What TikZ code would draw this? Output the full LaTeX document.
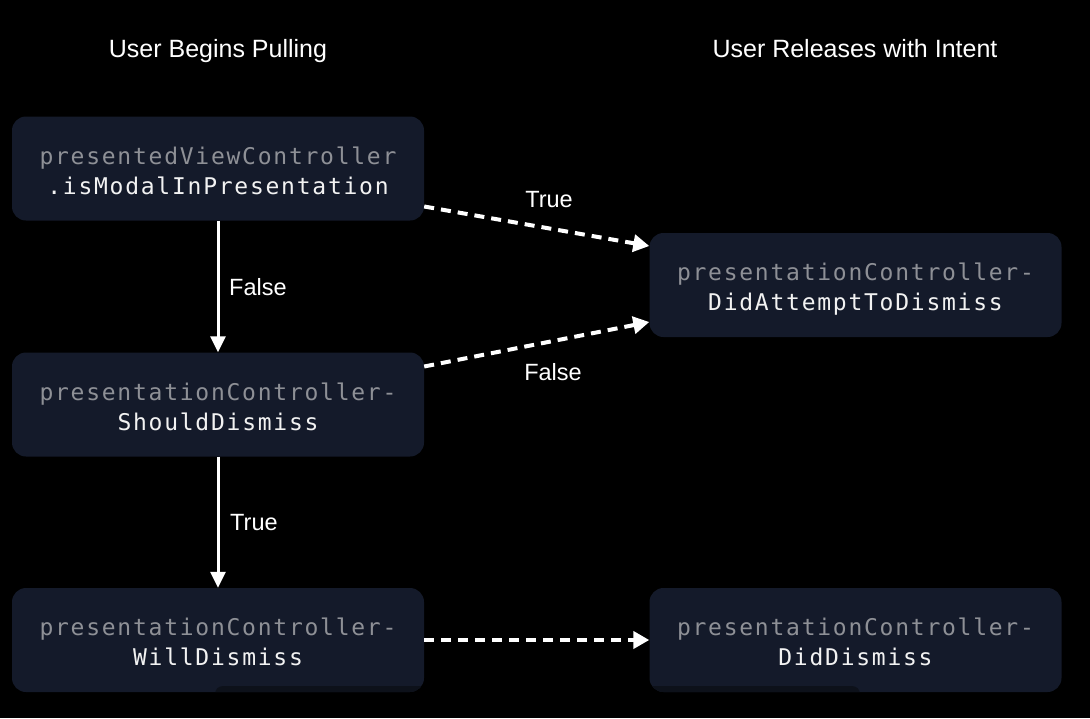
\documentclass[tikz,border=0pt]{standalone}
\usepackage{fontspec}
\setmainfont{Liberation Sans}
\newfontfamily\codefont[LetterSpace=7.6]{DejaVu Sans Mono}
\usetikzlibrary{arrows.meta}
\definecolor{boxfill}{RGB}{20,26,42}
\definecolor{boxdark}{RGB}{13,17,26}
\definecolor{codegray}{RGB}{142,144,150}
\definecolor{codewhite}{RGB}{242,242,242}
\tikzset{
  codebox/.style={draw=none, fill=boxfill, rounded corners=14pt,
    minimum width=412pt, minimum height=104pt, inner sep=0pt,
    align=center, text=codewhite, text height=51pt, text depth=0pt,
    font=\codefont\fontsize{23}{30}\selectfont},
  heading/.style={text=white, font=\fontsize{25}{30}\selectfont, anchor=base, inner sep=0pt},
  edgelabel/.style={text=white, font=\fontsize{23.5}{28}\selectfont, inner sep=0pt},
  solidarrow/.style={draw=white, line width=3pt,
    -{Triangle[length=16pt,width=15pt]}},
  dasharrow/.style={draw=white, line width=4pt, dash pattern=on 10pt off 7pt,
    -{Triangle[length=16pt,width=17pt]}},
}
\begin{document}
\begin{tikzpicture}[x=1pt,y=-1pt]
\fill[black] (0,0) rectangle (1090,718);
\useasboundingbox (0,0) rectangle (1090,718);

\node[heading] (h1) at (218,57) {User Begins Pulling};
\node[heading] (h2) at (855,57) {User Releases with Intent};

\node[codebox] (b1) at (218,168.5) {\textcolor{codegray}{presentedViewController}\\.isModalInPresentation};
\node[codebox] (b2) at (218,404.5) {\textcolor{codegray}{presentationController-}\\ShouldDismiss};
\node[codebox] (b3) at (218,640) {\textcolor{codegray}{presentationController-}\\WillDismiss};
\node[codebox] (b4) at (855.5,285) {\textcolor{codegray}{presentationController-}\\DidAttemptToDismiss};
\node[codebox] (b5) at (855.5,640) {\textcolor{codegray}{presentationController-}\\DidDismiss};

% darker overlay strips at the bottom of the lower boxes
\begin{scope}
\clip[rounded corners=14pt] (12,588) rectangle (424,692);
\fill[boxdark, rounded corners=8pt] (215,686) rectangle (450,720);
\end{scope}
\begin{scope}
\clip[rounded corners=14pt] (649.5,588) rectangle (1061.5,692);
\fill[boxdark, rounded corners=8pt] (620,686) rectangle (860,720);
\end{scope}

\draw[solidarrow] (b1.south) -- (b2.north);
\node[edgelabel, anchor=west] (lf) at (229,287) {False};
\draw[solidarrow] (b2.south) -- (b3.north);
\node[edgelabel, anchor=west] (lt) at (230,523) {True};

\draw[dasharrow] ([yshift=-38pt]b1.east) -- ([yshift=39pt]b4.west);
\node[edgelabel] (dt) at (549,200) {True};
\draw[dasharrow] ([yshift=38pt]b2.east) -- ([yshift=-37pt]b4.west);
\node[edgelabel] (df) at (553,372) {False};
\draw[dasharrow] (b3.east) -- (b5.west);
\end{tikzpicture}
\end{document}
